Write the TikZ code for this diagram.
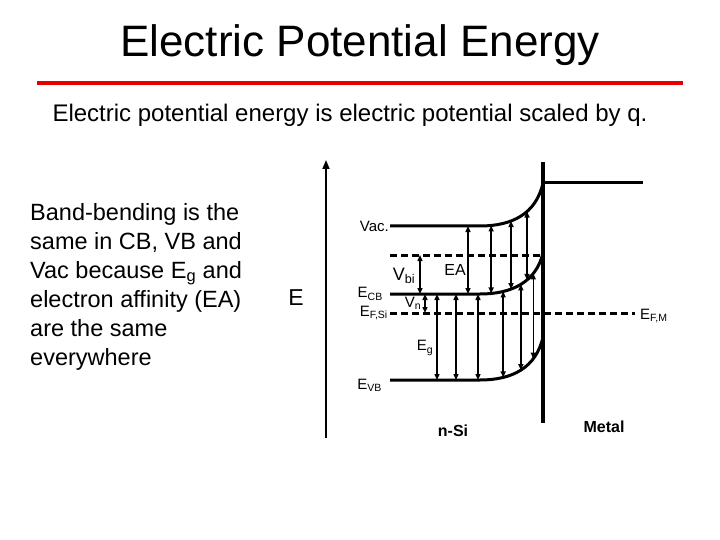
\documentclass[tikz,border=0pt]{standalone}
\usepackage{fontspec}
\setmainfont{Liberation Sans}
\usetikzlibrary{arrows.meta}
\tikzset{%
    band/.style={line width=3pt},
    fermi/.style={line width=3pt,dash pattern=on 7pt off 4pt},
    gap/.style={line width=1.4pt,{Triangle[length=6pt,width=5pt]}-{Triangle[length=6pt,width=5pt]}},
    lbl/.style={inner sep=0pt,font=\fontsize{15}{17}\selectfont}
}

\begin{document}
\begin{tikzpicture}[x=1pt,y=-1pt]
        \useasboundingbox (0,0) rectangle (720,540);
        \node[font=\fontsize{44}{50}\selectfont] (title) at (360,45) {Electric Potential Energy};
        \draw[red!90!black,line width=3.5pt] (37,83) -- (683,83);
        \node[font=\fontsize{24}{28}\selectfont] (sub) at (350,115) {Electric potential energy is electric potential scaled by q.};
        \node[anchor=north west,align=left,inner sep=0pt,font=\fontsize{23.5}{29}\selectfont] (txt) at (30,203)
            {Band-bending is the\\same in CB, VB and\\Vac because E\textsubscript{g} and\\electron affinity (EA)\\are the same\\everywhere};

        % energy axis
        \coordinate (ax0) at (326,438);
        \coordinate (ax1) at (326,160);
        \draw[line width=1.8pt,-{Triangle[length=9pt,width=7pt]}] (ax0) -- (ax1);
        \node[font=\fontsize{23}{26}\selectfont] (E) at (296,298) {E};

        % metal
        \coordinate (m0) at (543,162);
        \coordinate (m1) at (543,423);
        \coordinate (m2) at (643,183);
        \draw[line width=3.5pt] (m0) -- (m1);
        \draw[band] (543,183) -- (m2);

        % bands
        \draw[band] (390,226) -- (480,226) .. controls (512,226) and (536,214) .. (543,183)
            coordinate[pos=0.12] (v1) coordinate[pos=0.36] (v2) coordinate[pos=0.6] (v3);
        \draw[band] (390,294) -- (480,294) .. controls (512,294) and (536,282) .. (543,253)
            coordinate[pos=0.12] (c1) coordinate[pos=0.36] (c2) coordinate[pos=0.6] (c3)
            coordinate[pos=0.26] (c4) coordinate[pos=0.5] (c5) coordinate[pos=0.72] (c6);
        \draw[band] (390,380) -- (480,380) .. controls (512,380) and (536,368) .. (543,337)
            coordinate[pos=0.26] (w4) coordinate[pos=0.5] (w5) coordinate[pos=0.72] (w6);
        \draw[fermi] (390,255) -- (543,255);
        \draw[fermi] (390,313) -- (635,313);

        % arrows
        \draw[gap] (420,255) -- (420,294);
        \draw[gap] (425,294) -- (425,313);
        \draw[gap] (468,226) -- (468,294);
        \draw[gap] (v1) -- (c1);
        \draw[gap] (v2) -- (c2);
        \draw[gap] (v3) -- (c3);
        \draw[gap] (437,294) -- (437,380);
        \draw[gap] (456,294) -- (456,380);
        \draw[gap] (478,294) -- (478,380);
        \draw[gap] (c4) -- (w4);
        \draw[gap] (c5) -- (w5);
        \draw[gap] (c6) -- (w6);

        % labels
        \node[lbl,anchor=east] (vac) at (389,226) {Vac.};
        \node[lbl,anchor=east] (ecb) at (383,294) {E\textsubscript{CB}};
        \node[lbl,anchor=east] (efs) at (388,313) {E\textsubscript{F,Si}};
        \node[lbl,anchor=east] (evb) at (382,385) {E\textsubscript{VB}};
        \node[lbl,font=\fontsize{18}{20}\selectfont] (vbi) at (404,276) {V\textsubscript{bi}};
        \node[lbl] (vn) at (413,303) {V\textsubscript{n}};
        \node[lbl,font=\fontsize{16}{18}\selectfont] (ea) at (455,270) {EA};
        \node[lbl] (eg) at (425,348) {E\textsubscript{g}};
        \node[lbl,anchor=west] (efm) at (640,316) {E\textsubscript{F,M}};
        \node[lbl,font=\bfseries\fontsize{16}{18}\selectfont] (nsi) at (453,431) {n-Si};
        \node[lbl,font=\bfseries\fontsize{16}{18}\selectfont] (met) at (604,427) {Metal};
\end{tikzpicture}
\end{document}
